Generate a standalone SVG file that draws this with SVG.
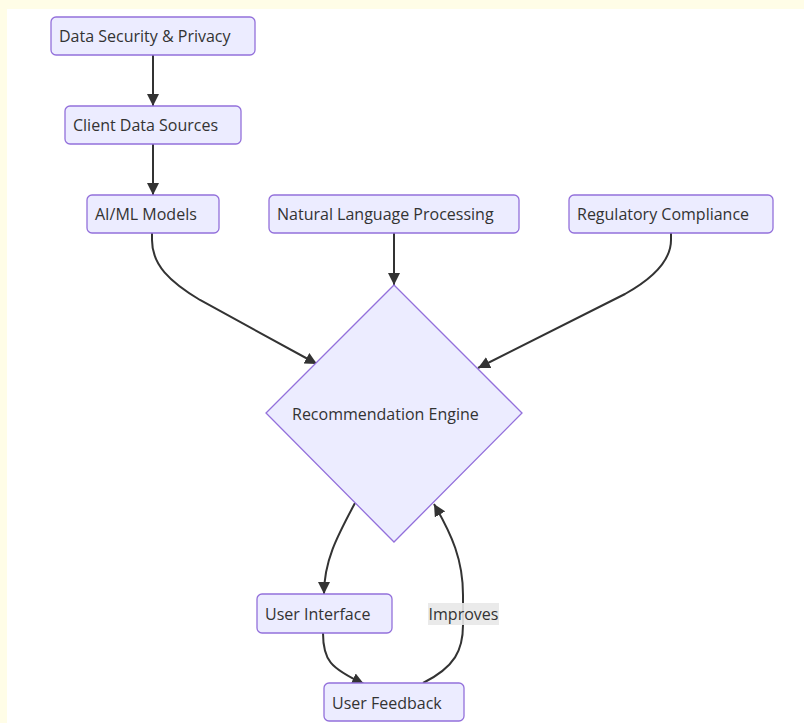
<svg xmlns="http://www.w3.org/2000/svg" width="804" height="723" viewBox="0 0 804 723">
<style>
.node rect, .node polygon { fill: #ECECFF; stroke: #9370DB; stroke-width: 1.3; }
.lbl { font-family: "Open Sans", "Noto Sans", sans-serif; font-size: 16px; fill: #333; dominant-baseline: central; }
.edge { fill: none; stroke: #333; stroke-width: 2; marker-end: url(#arrow); }
</style>
<defs>
<marker id="arrow" viewBox="0 0 10 10" refX="10" refY="5" markerUnits="userSpaceOnUse" markerWidth="12" markerHeight="12" orient="auto">
<path d="M0,0 L10,5 L0,10 z" fill="#333"/>
</marker>
</defs>
<rect x="0" y="0" width="804" height="723" fill="#FFFDE7"/>
<rect x="7" y="9" width="797" height="714" fill="#FFFFFF"/>

<g id="connectors">
<path class="edge" d="M153,55 L153,106"/>
<path class="edge" d="M153,144 L153,195"/>
<path class="edge" d="M394,233 L394,285"/>
<path class="edge" d="M152,233 L152,240 C152,265 170,282 200,300 L317,364"/>
<path class="edge" d="M671,233 L671,240 C671,262 650,280 625,294 L478,368"/>
<path class="edge" d="M355,503 C338,535 324,560 324,594"/>
<path class="edge" d="M323,633 C323,660 330,668 364,684"/>
<path class="edge" d="M423,683 C455,667 463,650 463,625 L463,595 C463,560 452,535 434,504"/>
</g>

<g id="label-improves">
<rect x="428" y="603" width="71" height="22" fill="#E8E8E8" opacity="0.9"/>
<text class="lbl" x="463.5" y="614" text-anchor="middle">Improves</text>
</g>

<g id="node-dsp" class="node">
<rect x="51" y="17" width="204" height="38" rx="5"/>
<text class="lbl" x="59" y="36">Data Security &amp; Privacy</text>
</g>
<g id="node-cds" class="node">
<rect x="65" y="106" width="176" height="38" rx="5"/>
<text class="lbl" x="73" y="125">Client Data Sources</text>
</g>
<g id="node-aiml" class="node">
<rect x="87" y="195" width="132" height="38" rx="5"/>
<text class="lbl" x="95" y="214">AI/ML Models</text>
</g>
<g id="node-nlp" class="node">
<rect x="269" y="195" width="250" height="38" rx="5"/>
<text class="lbl" x="277" y="214">Natural Language Processing</text>
</g>
<g id="node-rc" class="node">
<rect x="569" y="195" width="204" height="38" rx="5"/>
<text class="lbl" x="577" y="214">Regulatory Compliance</text>
</g>
<g id="node-engine" class="node">
<polygon points="394,285 522,413 394,542 266,413"/>
<text class="lbl" x="292" y="414">Recommendation Engine</text>
</g>
<g id="node-ui" class="node">
<rect x="257" y="594" width="135" height="39" rx="5"/>
<text class="lbl" x="265" y="614">User Interface</text>
</g>
<g id="node-uf" class="node">
<rect x="324" y="683" width="140" height="38" rx="5"/>
<text class="lbl" x="332" y="703">User Feedback</text>
</g>
</svg>
